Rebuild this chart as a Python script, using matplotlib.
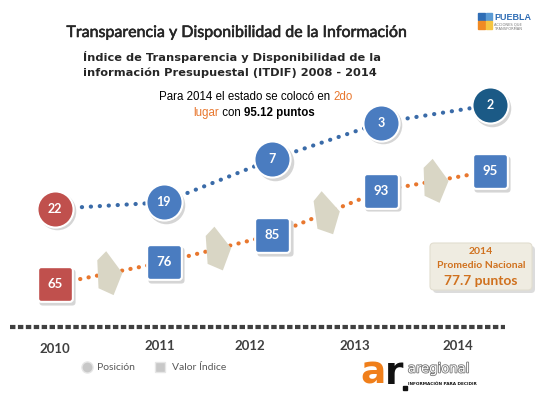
import numpy as np
import matplotlib

matplotlib.use("Agg")
import matplotlib.patheffects as pe
import matplotlib.pyplot as plt
import matplotlib.transforms as mtransforms
from matplotlib.patches import FancyBboxPatch, Polygon, Rectangle
from matplotlib.path import Path

# ---- data ----
years = [2010, 2011, 2012, 2013, 2014]
positions = [22, 19, 7, 3, 2]
index_values = [65, 76, 85, 93, 95]
year_labels = ["2010", "2011", "2012", "2013", "2014"]
national_year = "2014"
national_avg = 77.7
final_score = 95.12

# ---- styles ----
RED = "#C0504D"
BLUE = "#4A7CC0"
DARK_BLUE = "#1B5A86"
ORANGE = "#E8772E"
BEIGE = "#D9D6C5"
TXT = "#262626"
circle_colors = [RED, BLUE, BLUE, BLUE, DARK_BLUE]
square_colors = [RED, BLUE, BLUE, BLUE, BLUE]

W, H = 550, 404
fig = plt.figure(figsize=(5.5, 4.04), dpi=100)
fig.patch.set_facecolor("white")

# canvas axes, one unit = one pixel, y down
ax = fig.add_axes([0, 0, 1, 1])
ax.set_xlim(0, W)
ax.set_ylim(H, 0)
ax.axis("off")

x_lim = (2009.494, 2014.552)

# ranking: log scale, 1st place at the top
ax_pos = fig.add_axes([0, 0, 1, 1], facecolor="none")
ax_pos.set_yscale("log")
ax_pos.set_xlim(x_lim)
ax_pos.set_ylim(2020, 0.1757)
ax_pos.axis("off")


# index value: distance-to-100 scale
def _fwd(v):
    return -np.log(np.clip(100 - np.asarray(v, dtype=float), 1e-9, None))


def _inv(u):
    return 100 - np.exp(-np.asarray(u, dtype=float))


ax_val = fig.add_axes([0, 0, 1, 1], facecolor="none")
ax_val.set_yscale("function", functions=(_fwd, _inv))
ax_val.set_xlim(x_lim)
ax_val.set_ylim(-175.6, 99.737)
ax_val.axis("off")

renderer = fig.canvas.get_renderer()


def draw_runs(y, runs, x, size, family="Liberation Sans", align="center"):
    objs = []
    for s, c, w in runs:
        objs.append(ax.text(0, y, s, color=c, fontweight=w, fontsize=size,
                            family=family, va="center", ha="left"))
    widths = [t.get_window_extent(renderer).width for t in objs]
    if align == "center":
        x = x - sum(widths) / 2
    for t, wd in zip(objs, widths):
        t.set_x(x)
        x += wd
    return x


# ---- titles ----
ax.text(237, 33, "Transparencia y Disponibilidad de la Información",
        fontsize=11.5, family="Lato", color=TXT, ha="center", va="center",
        path_effects=[pe.withStroke(linewidth=0.4, foreground=TXT)])
ax.text(83, 57, "Índice de Transparencia y Disponibilidad de la",
        fontsize=8.2, family="DejaVu Sans", fontweight="bold", color=TXT,
        ha="left", va="center")
ax.text(83, 73, "información Presupuestal (ITDIF) 2008 - 2014",
        fontsize=8.2, family="DejaVu Sans", fontweight="bold", color=TXT,
        ha="left", va="center")

draw_runs(97, [("Para 2014 el estado se colocó en ", "black", "normal"),
               ("2do", ORANGE, "normal")], 256, 8.3)
draw_runs(113, [("lugar", ORANGE, "normal"), (" con ", "black", "normal"),
                (f"{final_score:.2f} puntos", "black", "bold")], 254, 8.3)

# ---- logos (approximate) ----
ax.add_patch(Rectangle((478, 13), 7, 7, color="#2F6DB5"))
ax.add_patch(Rectangle((486, 13), 6, 7, color="#5B9BD5"))
ax.add_patch(Rectangle((478, 21), 7, 8, color="#F08A24"))
ax.add_patch(Rectangle((486, 21), 6, 8, color="#F5C542"))
ax.text(494, 18, "PUEBLA", fontsize=6.5, fontweight="bold", color="#2F6DB5",
        family="Liberation Sans", va="center")
ax.text(494, 25, "ACCIONES QUE", fontsize=2.6, color="#777777", va="center")
ax.text(494, 29, "TRANSFORMAN", fontsize=2.6, color="#777777", va="center")

logo_end = draw_runs(374, [("a", "#F07F1A", "bold"), ("r", "#111111", "bold")],
                     360, 27, family="DejaVu Sans", align="left")
ax.plot(logo_end + 1, 388, "s", ms=3, color="#111111")
ax.text(logo_end + 4, 369, "aregional", fontsize=9.5, color="white",
        family="DejaVu Sans", va="center", ha="left",
        path_effects=[pe.withStroke(linewidth=1.2, foreground="#777777")])
ax.text(logo_end + 4, 384, "INFORMACIÓN PARA DECIDIR", fontsize=3.1,
        fontweight="bold", color="#111111", va="center", ha="left")

# ---- dashed baseline and year labels ----
ax.plot([10, 505], [327, 327], color="#404040", lw=3, ls=(0, (1.3, 0.6)),
        dash_capstyle="butt")
year_label_x = [55, 160, 250, 355, 458]
year_label_y = [349, 346, 346, 346, 346]
for lbl, x, y in zip(year_labels, year_label_x, year_label_y):
    ax.text(x, y, lbl, fontsize=9.5, fontweight="bold", family="Lato",
            color="#404040", ha="center", va="center")

# ---- legend ----
ax.plot(87, 367, "o", ms=8, color="#C8C8C8", mec="#E6E6E6")
ax.text(97, 367, "Posición", fontsize=7.5, family="Lato", color="#595959",
        va="center")
ax.plot(160, 367, "s", ms=7.5, color="#C8C8C8", mec="#E6E6E6")
ax.text(172, 367, "Valor Índice", fontsize=7.5, family="Lato", color="#595959",
        va="center")

# ---- national average callout ----
ax.add_patch(FancyBboxPatch((433, 246), 102, 47,
                            boxstyle="round,pad=0,rounding_size=4",
                            fc="#DCDCDC", ec="none"))
ax.add_patch(FancyBboxPatch((430, 243), 102, 47,
                            boxstyle="round,pad=0,rounding_size=4",
                            fc="#EFECE1", ec="#E2DED0", lw=0.8))
ax.text(481, 252, national_year, fontsize=7.5, fontweight="bold", family="Lato",
        color="#D0711E", ha="center", va="center")
ax.text(481, 265, "Promedio Nacional", fontsize=7.5, fontweight="bold",
        family="Lato", color="#D0711E", ha="center", va="center")
ax.text(481, 281, f"{national_avg} puntos", fontsize=10, fontweight="bold",
        family="Lato", color="#D0711E", ha="center", va="center")

# ---- position series (circles) ----
ax_pos.plot(years, positions, color="#3A6BA8", lw=3, ls=(0, (0.05, 2.1)),
            dash_capstyle="round", zorder=1)
shadow_pos = mtransforms.offset_copy(ax_pos.transData, fig=fig, x=1.5, y=-2,
                                     units="points")
for yr, p, c in zip(years, positions, circle_colors):
    ax_pos.plot(yr, p, "o", ms=27, color="#D5D5D5", mec="none",
                transform=shadow_pos, zorder=2)
    ax_pos.plot(yr, p, "o", ms=26, color=c, mec="white", mew=1.5, zorder=3)
    ax_pos.text(yr, p, str(p), fontsize=9, fontweight="bold", family="Lato",
                color="white", ha="center", va="center", zorder=4)

# ---- index series (rounded squares) ----
ax_val.plot(years, index_values, color=ORANGE, lw=3, ls=(0, (0.05, 2.0)),
            dash_capstyle="round", zorder=1)

# chevron arrows between consecutive squares
pts = ax_val.transData.transform(np.column_stack([years, index_values]))
pts[:, 1] = H - pts[:, 1]
arrow_shape = np.array([(-12, -13), (-3, -22), (13, 0), (4, 22), (-11, 15)],
                       dtype=float)
seg = np.diff(pts, axis=0)
angles = np.arctan2(seg[:, 1], seg[:, 0])
base_angle = np.arctan2(-22, 120)
for i in range(len(seg)):
    mid = (pts[i] + pts[i + 1]) / 2
    a = 0.5 * (angles[i] - base_angle)
    rot = np.array([[np.cos(a), -np.sin(a)], [np.sin(a), np.cos(a)]])
    verts = arrow_shape @ rot.T + mid
    ax_val.add_patch(Polygon(verts, closed=True, fc=BEIGE, ec="none",
                             transform=ax.transData, zorder=2))

rounded = FancyBboxPatch((-1, -1), 2, 2,
                         boxstyle="round,pad=0,rounding_size=0.18").get_path()
sq_marker = Path(rounded.vertices, rounded.codes)
shadow_val = mtransforms.offset_copy(ax_val.transData, fig=fig, x=1.5, y=-2,
                                     units="points")
for yr, v, c in zip(years, index_values, square_colors):
    ax_val.plot(yr, v, marker=sq_marker, ms=26, color="#D5D5D5", mec="none",
                transform=shadow_val, zorder=3)
    ax_val.plot(yr, v, marker=sq_marker, ms=25, color=c, mec="white", mew=1.5,
                zorder=4)
    ax_val.text(yr, v, str(v), fontsize=9.5, fontweight="bold", family="Lato",
                color="white", ha="center", va="center", zorder=5)

fig.savefig("out.png", dpi=100, facecolor="white")
